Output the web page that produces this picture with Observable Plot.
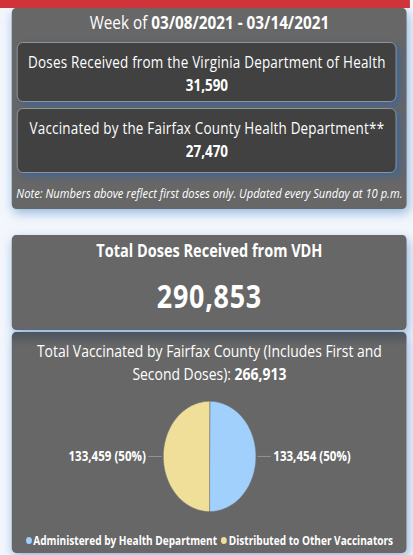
<!DOCTYPE html>
<html><head><meta charset="utf-8">
<script src="https://cdn.jsdelivr.net/npm/d3@7"></script>
<script src="https://cdn.jsdelivr.net/npm/@observablehq/plot@0.6"></script>
<style>
html,body{margin:0;padding:0;background:#f3f7fc;overflow:hidden;}
body{width:413px;height:555px;position:relative;font-family:"Open Sans",sans-serif;color:#fff;}
#wrap{position:absolute;left:0;top:0;width:492px;height:555px;transform:scaleX(0.84);transform-origin:0 0;}
.redbar{position:absolute;left:0;top:0;width:488px;height:8px;background:#d0343a;z-index:5;}
.panel{position:absolute;left:14.3px;width:470px;background:#676767;border-radius:5px;box-shadow:2px 4px 12px rgba(70,130,200,0.55);}
.box{position:absolute;left:6px;width:450px;background:#414141;border:1px solid #9a9a9a;border-radius:7px;box-shadow:4px 3px 7px rgba(50,100,165,0.75);}
.t{position:absolute;left:0;width:100%;text-align:center;line-height:1;white-space:nowrap;}
b{font-weight:700;}
#chart{position:absolute;left:-14.3px;top:58px;}
.dot{display:inline-block;width:7px;height:7px;border-radius:50%;margin-right:2px;vertical-align:1px;}
.dot + .lbl{}
.sep{display:inline-block;width:5px;}
</style></head>
<body>
<div id="wrap">
  <div class="redbar"></div>
  <div class="panel" style="top:8px;height:201px;">
    <div class="t" style="top:5px;font-size:18.2px;">Week of <b>03/08/2021 - 03/14/2021</b></div>
    <div class="box" style="top:34px;height:58px;">
      <div class="t" style="top:10.5px;font-size:16px;letter-spacing:0.25px;" id="l1"></div>
      <div class="t" style="top:34px;font-size:16px;font-weight:700;" id="v1"></div>
    </div>
    <div class="box" style="top:100px;height:63px;">
      <div class="t" style="top:10.5px;font-size:16px;letter-spacing:0.25px;" id="l2"></div>
      <div class="t" style="top:34px;font-size:16px;font-weight:700;" id="v2"></div>
    </div>
    <div class="t" style="top:178.5px;font-size:13.3px;font-style:italic;">Note: Numbers above reflect first doses only. Updated every Sunday at 10 p.m.</div>
  </div>
  <div class="panel" style="top:235px;height:95px;">
    <div class="t" style="top:7px;font-size:17.3px;font-weight:700;" id="l3"></div>
    <div class="t" style="top:44.6px;font-size:32px;font-weight:700;letter-spacing:0.9px;" id="v3"></div>
  </div>
  <div class="panel" style="top:332px;height:221px;background:linear-gradient(#4c545e 0px,#676767 14px);">
    <div class="t" style="top:10.5px;font-size:16.6px;" id="title1"></div>
    <div class="t" style="top:33.5px;font-size:16.6px;" id="title2"></div>
    <div id="chart"></div>
    <div class="t" style="top:203px;font-size:12px;font-weight:700;" id="legend"></div>
  </div>
</div>
<script>
// ---- data ----
const weekLabels = ["Doses Received from the Virginia Department of Health", "Vaccinated by the Fairfax County Health Department**"];
const weekValues = [31590, 27470];
const totalLabel = "Total Doses Received from VDH";
const totalReceived = 290853;
const totalVaccinated = 266913;
const categories = ["Administered by Health Department", "Distributed to Other Vaccinators"];
const values = [133454, 133459];
const sliceColors = ["#a2d0fd", "#efdf99"];

const fmt = d3.format(",");
document.getElementById("l1").textContent = weekLabels[0];
document.getElementById("v1").textContent = fmt(weekValues[0]);
document.getElementById("l2").textContent = weekLabels[1];
document.getElementById("v2").textContent = fmt(weekValues[1]);
document.getElementById("l3").textContent = totalLabel;
document.getElementById("v3").textContent = fmt(totalReceived);
document.getElementById("title1").textContent = "Total Vaccinated by Fairfax County (Includes First and";
document.getElementById("title2").innerHTML = "Second Doses): <b>" + fmt(totalVaccinated) + "</b>";
document.getElementById("legend").innerHTML = categories.map((c, i) =>
  `<span class="dot" style="background:${sliceColors[i]}"></span>${c}`).join('<span class="sep"></span>');

// ---- pie geometry from data ----
const total = d3.sum(values);
const arcs = d3.pie().sort(null).value(d => d)(values);
const R = 56;
const slicePts = [];
arcs.forEach((a, i) => {
  slicePts.push({cat: categories[i], x: 0, y: 0});
  const n = 90;
  for (let k = 0; k <= n; k++) {
    const t = a.startAngle + (a.endAngle - a.startAngle) * k / n;
    slicePts.push({cat: categories[i], x: R * Math.sin(t), y: R * Math.cos(t)});
  }
});
const labels = arcs.map((a, i) => {
  const m = (a.startAngle + a.endAngle) / 2;
  const s = Math.sin(m), c = Math.cos(m);
  return {
    side: s >= 0 ? "right" : "left",
    x1: (R + 2) * s, y1: (R + 2) * c,
    x2: (R + 18) * s, y2: (R + 18) * c,
    tx: (R + 21) * s, ty: (R + 21) * c,
    text: fmt(values[i]) + " (" + Math.round(values[i] / total * 100) + "%)"
  };
});

const chart = Plot.plot({
  width: 492, height: 140,
  marginTop: 0, marginRight: 0, marginBottom: 0, marginLeft: 0,
  style: {background: "transparent", overflow: "visible"},
  x: {domain: [-253, 239], range: [0, 492], axis: null},
  y: {domain: [-73, 67], range: [140, 0], axis: null},
  color: {domain: categories, range: sliceColors},
  marks: [
    Plot.line(slicePts, {x: "x", y: "y", z: "cat", fill: "cat", stroke: "#6f7378", strokeWidth: 0.6, curve: "linear-closed"}),
    Plot.link(labels, {x1: "x1", y1: "y1", x2: "x2", y2: "y2", stroke: "#9a9a9a", strokeWidth: 1}),
    Plot.text(labels.filter(d => d.side === "right"), {x: "tx", y: "ty", text: "text", textAnchor: "start", fill: "white", fontSize: 14, fontWeight: "bold", fontFamily: "Open Sans"}),
    Plot.text(labels.filter(d => d.side === "left"), {x: "tx", y: "ty", text: "text", textAnchor: "end", fill: "white", fontSize: 14, fontWeight: "bold", fontFamily: "Open Sans"})
  ]
});
document.getElementById("chart").appendChild(chart);
</script>
</body></html>
